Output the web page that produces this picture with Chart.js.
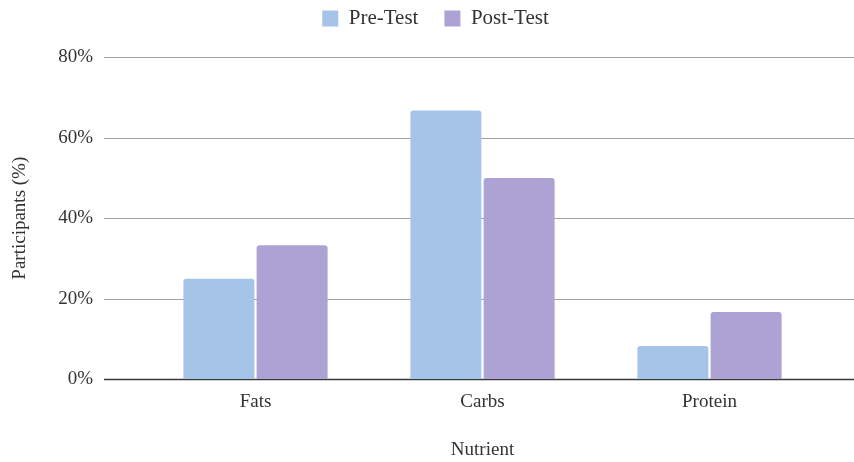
<!DOCTYPE html>
<html>
<head>
<meta charset="utf-8">
<script src="https://cdn.jsdelivr.net/npm/chart.js@4"></script>
<style>
  html, body { margin: 0; padding: 0; background: #fff; }
  #wrap { width: 854px; height: 462px; }
</style>
</head>
<body>
<div id="wrap"><canvas id="c"></canvas></div>
<script>
const nutrients = ['Fats', 'Carbs', 'Protein']
const preTest = [25, 66.7, 8.3]
const postTest = [33.3, 50, 16.7]
const yTicks = [0, 20, 40, 60, 80]

const FONT = "'Liberation Serif', 'DejaVu Serif', serif"

// grid lines run wider than the bars' area, so draw them here
const wideGrid = {
    id: 'wideGrid',
    beforeDatasetsDraw(chart) {
        const ctx = chart.ctx, y = chart.scales.y
        const left = chart.chartArea.left - 38, right = chart.width
        ctx.save()
        yTicks.forEach(v => {
            const py = Math.round(y.getPixelForValue(v)) + 0.5
            ctx.strokeStyle = v === 0 ? '#3a3a3a' : '#a0a0a0'
            ctx.lineWidth = v === 0 ? 1.5 : 1
            ctx.beginPath()
            ctx.moveTo(left, py)
            ctx.lineTo(right, py)
            ctx.stroke()
        })
        ctx.restore()
    }
}

// fixed height for the legend block, then move it up and right a bit
const legendSpace = {
    id: 'legendSpace',
    beforeInit(chart) {
        const fit = chart.legend.fit
        chart.legend.fit = function () { fit.bind(chart.legend)(); this.height = 57 }
    },
    afterLayout(chart) {
        const lg = chart.legend
        lg.left += 24; lg.right += 24
        lg.top -= 18; lg.bottom -= 18
    }
}

new Chart(document.getElementById('c'), {
    type: 'bar',
    data: {
        labels: nutrients,
        datasets: [
            { label: 'Pre-Test', data: preTest, backgroundColor: '#a6c4e7', borderRadius: 3 },
            { label: 'Post-Test', data: postTest, backgroundColor: '#ada2d4', borderRadius: 3 }
        ]
    },
    options: {
        responsive: true,
        maintainAspectRatio: false,
        animation: false,
        categoryPercentage: 0.645,
        barPercentage: 0.97,
        layout: { padding: { top: 0, right: 31, bottom: -3 } },
        plugins: {
            legend: {
                position: 'top',
                labels: {
                    font: { family: FONT, size: 21 },
                    color: '#333',
                    boxWidth: 16,
                    boxHeight: 16,
                    padding: 26
                }
            },
            tooltip: { enabled: false }
        },
        scales: {
            x: {
                grid: { display: false },
                border: { display: false },
                ticks: { font: { family: FONT, size: 19 }, color: '#333', padding: 3 },
                title: { display: true, text: 'Nutrient', font: { family: FONT, size: 19 }, color: '#333', padding: { top: 22 } }
            },
            y: {
                min: 0,
                max: 80,
                afterBuildTicks: s => { s.ticks = yTicks.map(v => ({ value: v })) },
                afterFit: s => { s.width = 142 },
                // invisible tick marks keep the labels away from the bars
                grid: { display: true, drawOnChartArea: false, drawTicks: true, tickLength: 45, tickColor: 'rgba(0,0,0,0)' },
                border: { display: false },
                ticks: { font: { family: FONT, size: 19 }, color: '#333', padding: 4, callback: v => v + '%' },
                title: { display: true, text: 'Participants (%)', font: { family: FONT, size: 19 }, color: '#333', padding: { top: 9 } }
            }
        }
    },
    plugins: [wideGrid, legendSpace]
})
</script>
</body>
</html>
